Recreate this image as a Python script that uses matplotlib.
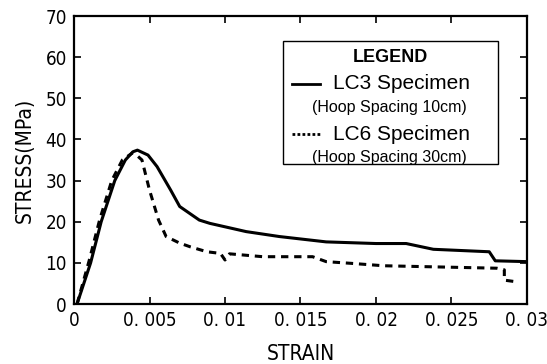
#!/usr/bin/env python3

import matplotlib
matplotlib.use('Agg')
import matplotlib.pyplot as plt
from matplotlib import font_manager
from matplotlib.patches import Rectangle
from matplotlib.lines import Line2D

# LC3 specimen (hoop spacing 10cm)
lc3_strain = [0.0002, 0.0011, 0.0018, 0.0027, 0.0034, 0.0039, 0.0042, 0.0049, 0.0055, 0.0064,
              0.0070, 0.0083, 0.0090, 0.0114, 0.0136, 0.0167, 0.0200, 0.0220, 0.0238, 0.0275,
              0.0279, 0.0300]
lc3_stress = [0.0, 10.0, 20.0, 30.0, 35.0, 37.0, 37.4, 36.2, 33.4, 27.7,
              23.7, 20.4, 19.6, 17.6, 16.4, 15.1, 14.7, 14.7, 13.3, 12.7,
              10.5, 10.3]

# LC6 specimen (hoop spacing 30cm)
lc6_strain = [0.0002, 0.0010, 0.0017, 0.0025, 0.0032, 0.0039, 0.0042, 0.0045, 0.0050, 0.0056,
              0.0061, 0.0070, 0.0077, 0.0088, 0.0097, 0.0100, 0.0103, 0.0125, 0.0158, 0.0167,
              0.0183, 0.0205, 0.0280, 0.0285, 0.0285, 0.0293]
lc6_stress = [0.0, 10.5, 20.5, 30.0, 35.0, 36.8, 36.0, 35.0, 27.7, 20.4,
              16.4, 14.8, 13.9, 12.7, 12.3, 10.7, 12.2, 11.5, 11.5, 10.3,
              9.9, 9.3, 8.7, 8.3, 5.8, 5.4]

x_ticks = [0, 0.005, 0.01, 0.015, 0.02, 0.025, 0.03]
x_tick_labels = ['0', '0. 005', '0. 01', '0. 015', '0. 02', '0. 025', '0. 03']
y_ticks = [0, 10, 20, 30, 40, 50, 60, 70]

legend_title = 'LEGEND'
legend_names = ['LC3 Specimen', 'LC6 Specimen']
legend_notes = ['(Hoop Spacing 10cm)', '(Hoop Spacing 30cm)']

tick_fp = font_manager.FontProperties(family=['DejaVu Sans'], stretch='condensed', size=13.5)
label_fp = font_manager.FontProperties(family=['DejaVu Sans'], stretch='condensed', size=15)
sans = ['Liberation Sans', 'DejaVu Sans']

fig = plt.figure(figsize=(5.47, 3.64), dpi=100)
ax = fig.add_axes([0.1353, 0.1648, 0.8281, 0.7912])

ax.plot(lc3_strain, lc3_stress, color='black', lw=2.2, solid_joinstyle='round')
ax.plot(lc6_strain, lc6_stress, color='black', lw=2.2, linestyle=(0, (2.4, 1.9)))

ax.set_xlim(0, 0.03)
ax.set_ylim(0, 70)
ax.set_xticks(x_ticks)
ax.set_xticklabels(x_tick_labels, fontproperties=tick_fp)
ax.set_yticks(y_ticks)
ax.set_yticklabels([str(v) for v in y_ticks], fontproperties=tick_fp)
ax.tick_params(direction='in', length=5, width=1.2, top=True, right=True, pad=5)
for s in ax.spines.values():
    s.set_linewidth(1.6)

# x label sits right at the bottom edge, as in the scan
fig.text(0.1353 + 0.8281 / 2, 0.012, 'STRAIN', ha='center', va='baseline',
         fontproperties=label_fp)
ax.set_ylabel('STRESS(MPa)', fontproperties=label_fp, labelpad=8)

# hand-built legend box
x0, y0 = 0.461, 0.486
box = Rectangle((x0, y0), 0.476, 0.427, transform=ax.transAxes, fill=False,
                edgecolor='black', lw=1.0)
ax.add_patch(box)
ax.text(0.699, 0.855, legend_title, transform=ax.transAxes, ha='center', va='center',
        fontfamily=sans, fontsize=13, fontweight='bold')
styles = ['-', (0, (1.0, 0.8))]
rows = [0.765, 0.59]
for name, note, ls, yr in zip(legend_names, legend_notes, styles, rows):
    ax.add_line(Line2D([0.482, 0.543], [yr, yr], transform=ax.transAxes, color='black',
                       lw=2.0, linestyle=ls))
    ax.text(0.571, yr, name, transform=ax.transAxes, ha='left', va='center',
            fontfamily=sans, fontsize=15)
    ax.text(0.525, yr - 0.083, note, transform=ax.transAxes, ha='left', va='center',
            fontfamily=sans, fontsize=11.5)

fig.savefig('out.png', dpi=100)
